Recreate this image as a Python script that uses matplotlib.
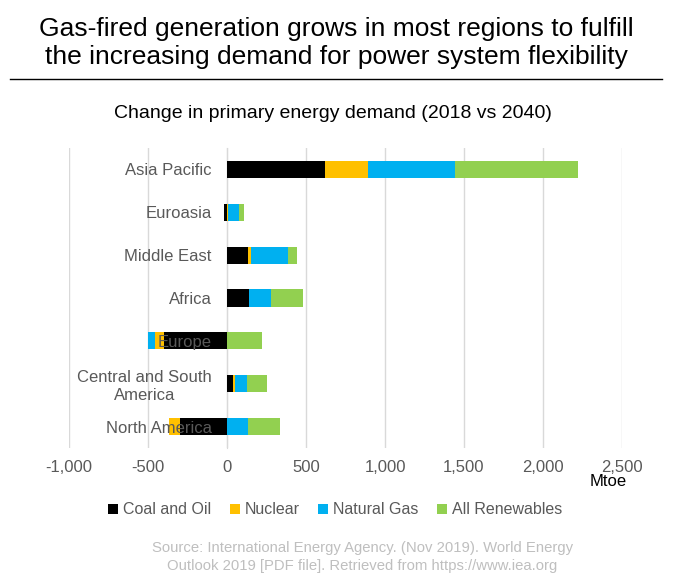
import matplotlib
matplotlib.use("Agg")
import matplotlib.pyplot as plt
import numpy as np
from matplotlib.ticker import FuncFormatter

plt.rcParams['font.family'] = ['Liberation Sans', 'DejaVu Sans']

regions = ["Asia Pacific", "Euroasia", "Middle East", "Africa", "Europe",
           "Central and South\nAmerica", "North America"]
series_names = ["Coal and Oil", "Nuclear", "Natural Gas", "All Renewables"]
coal_oil = [622, -20, 131, 141, -400, 36, -295]
nuclear = [272, 5, 19, 0, -58, 12, -70]
natural_gas = [546, 70, 236, 136, -39, 78, 132]
renewables = [780, 30, 56, 204, 221, 126, 202]
colors = ["#000000", "#FFC000", "#00B0F0", "#92D050"]
xticks = [-1000, -500, 0, 500, 1000, 1500, 2000, 2500]

fig = plt.figure(figsize=(6.84, 5.81), dpi=100)
ax = fig.add_axes([69/684, 1-448/581, (622-69)/684, (448-148)/581])

y = np.arange(len(regions))
pos_base = np.zeros(len(regions))
neg_base = np.zeros(len(regions))
for name, vals, c in zip(series_names, [coal_oil, nuclear, natural_gas, renewables], colors):
    vals = np.array(vals, dtype=float)
    left = np.where(vals >= 0, pos_base, neg_base)
    ax.barh(y, vals, left=left, height=0.4, color=c, label=name, zorder=2)
    pos_base = pos_base + np.where(vals >= 0, vals, 0)
    neg_base = neg_base + np.where(vals < 0, vals, 0)

ax.set_xlim(-1000, 2500)
ax.set_ylim(6.5, -0.5)
ax.set_xticks(xticks)
ax.xaxis.set_major_formatter(FuncFormatter(lambda v, p: f"{int(v):,}"))
ax.grid(axis='x', color='#d9d9d9', linewidth=1)
ax.xaxis.set_zorder(0.5)
ax.yaxis.set_zorder(5)
for s in ['top', 'right', 'bottom']:
    ax.spines[s].set_visible(False)
ax.spines['left'].set_position(('data', 0))
ax.spines['left'].set_color('#d9d9d9')
ax.spines['left'].set_zorder(1)
ax.set_yticks(y)
ax.set_yticklabels(regions, multialignment='center')
ax.tick_params(axis='y', length=0, pad=11, labelsize=12, labelcolor='#595959')
ax.tick_params(axis='x', length=0, pad=9, labelsize=12, labelcolor='#595959')

fig.text(608/684, 1-482/581, "Mtoe", ha='center', va='center', fontsize=12, color='black')

fig.text(0.492, 1-43/581, "Gas-fired generation grows in most regions to fulfill\nthe increasing demand for power system flexibility",
         ha='center', va='center', fontsize=19, color='black', linespacing=1.2)
fig.add_artist(plt.Line2D([10/684, 662/684], [1-79/581, 1-79/581], color='black', linewidth=1))
fig.text(0.487, 1-113/581, "Change in primary energy demand (2018 vs 2040)",
         ha='center', va='center', fontsize=14, color='black')

handles, labels = ax.get_legend_handles_labels()
leg = fig.legend(handles, labels, loc='center', bbox_to_anchor=(0.49, 1-510/581), ncol=4,
                 frameon=False, fontsize=11.5, handlelength=0.6, handleheight=0.6,
                 handletextpad=0.3, columnspacing=1.2)
for t in leg.get_texts():
    t.set_color('#595959')

fig.text(0.53, 1-557/581, "Source: International Energy Agency. (Nov 2019). World Energy\nOutlook 2019 [PDF file]. Retrieved from https://www.iea.org",
         ha='center', va='center', fontsize=10.7, color='#bfbfbf', linespacing=1.3)

fig.savefig("out.png", dpi=100)
